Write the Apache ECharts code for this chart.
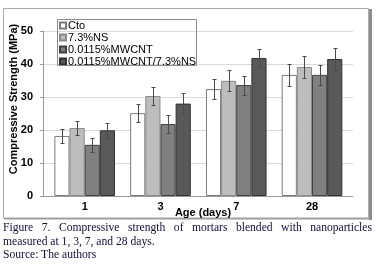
<!DOCTYPE html>
<html>
<head>
<meta charset="utf-8">
<script src="https://cdn.jsdelivr.net/npm/echarts@6/dist/echarts.min.js"></script>
<style>
html,body{margin:0;padding:0;background:#fff;}
#wrap{position:relative;width:384px;height:268px;overflow:hidden;}
#chart{position:absolute;left:0;top:0;width:384px;height:268px;}
.cap{position:absolute;left:3px;width:369px;font-family:"Liberation Serif","Times New Roman",serif;font-size:11.6px;line-height:13px;color:#10103a;white-space:nowrap;}
#c1{top:221px;text-align:justify;text-align-last:justify;white-space:normal;}
#c2{top:235px;}
#c3{top:248px;}
</style>
</head>
<body>
<div id="wrap">
<div id="chart"></div>
<div class="cap" id="c1">Figure 7. Compressive strength of mortars blended with nanoparticles</div>
<div class="cap" id="c2">measured at 1, 3, 7, and 28 days.</div>
<div class="cap" id="c3">Source: The authors</div>
</div>
<script>
const categories = ['1', '3', '7', '28'];
const seriesNames = ['Cto', '7.3%NS', '0.0115%MWCNT', '0.0115%MWCNT/7.3%NS'];
const ctoValues = [18.2, 25.1, 32.4, 36.7];
const nsValues = [20.6, 30.3, 34.9, 39.1];
const mwcntValues = [15.5, 21.8, 33.6, 36.7];
const comboValues = [19.9, 28.0, 41.8, 41.5];
const ctoErr = [2.1, 2.8, 3.0, 3.4];
const nsErr = [2.1, 2.7, 3.2, 3.2];
const mwcntErr = [2.2, 2.6, 2.9, 3.0];
const comboErr = [2.3, 3.1, 2.6, 3.3];
const yTicks = [0, 10, 20, 30, 40, 50];

const allValues = [ctoValues, nsValues, mwcntValues, comboValues];
const allErr = [ctoErr, nsErr, mwcntErr, comboErr];
const fills = ['#ffffff', '#bdbdbd', '#808080', '#595959'];
const borders = ['#7a7a7a', '#8a8a8a', '#3f3f3f', '#303030'];
const FONT = '"Liberation Sans", Arial, sans-serif';

const chart = echarts.init(document.getElementById('chart'), null, {renderer: 'canvas'});

const barSeries = allValues.map((vals, k) => ({
  name: seriesNames[k],
  type: 'bar',
  xAxisIndex: 1,
  yAxisIndex: 1,
  data: vals,
  barGap: '0%',
  barCategoryGap: '20%',
  itemStyle: {color: fills[k], borderColor: borders[k], borderWidth: 1},
  emphasis: {disabled: true},
  z: 3
}));

const errSeries = allValues.map((vals, k) => ({
  name: 'err' + k,
  type: 'custom',
  xAxisIndex: 1,
  yAxisIndex: 1,
  z: 5,
  silent: true,
  data: vals.map((v, i) => [i, v, allErr[k][i]]),
  renderItem: function (params, api) {
    const ci = api.value(0), v = api.value(1), e = api.value(2);
    const bandW = api.size([1, 0])[0];
    const barW = bandW * 0.8 / 4;
    const cx = Math.round(api.coord([ci, v])[0] + (k - 1.5) * barW) + 0.5;
    const yt = Math.round(api.coord([ci, v + e])[1]) + 0.5;
    const yb = Math.round(api.coord([ci, v - e])[1]) + 0.5;
    const st = {stroke: '#4a4a4a', lineWidth: 1};
    return {
      type: 'group',
      children: [
        {type: 'line', shape: {x1: cx, y1: yt, x2: cx, y2: yb}, style: st},
        {type: 'line', shape: {x1: cx - 2, y1: yt, x2: cx + 2, y2: yt}, style: st},
        {type: 'line', shape: {x1: cx - 2, y1: yb, x2: cx + 2, y2: yb}, style: st}
      ]
    };
  }
}));

const option = {
  animation: false,
  backgroundColor: '#ffffff',
  textStyle: {fontFamily: FONT},
  grid: [
    {left: 43, right: 31, top: 31, bottom: 72},
    {left: 46.8, right: 34.1, top: 31, bottom: 72}
  ],
  xAxis: [
    {
      type: 'category', gridIndex: 0, data: categories,
      axisLine: {show: true, lineStyle: {color: '#9a9a9a', width: 1}},
      axisTick: {show: false}, axisLabel: {show: false}, splitLine: {show: false}
    },
    {
      type: 'category', gridIndex: 1, data: categories,
      axisLine: {show: false}, axisTick: {show: false},
      axisLabel: {show: true, margin: 5, color: '#000', fontWeight: 'bold', fontSize: 11, fontFamily: FONT},
      splitLine: {show: false}
    }
  ],
  yAxis: [
    {
      type: 'value', gridIndex: 0, min: yTicks[0], max: yTicks[yTicks.length - 1], interval: 10,
      axisLine: {show: true, lineStyle: {color: '#9a9a9a', width: 1}},
      axisTick: {show: true, length: 3, lineStyle: {color: '#9a9a9a'}},
      axisLabel: {margin: 10, color: '#000', fontWeight: 'bold', fontSize: 11, fontFamily: FONT},
      splitLine: {show: true, lineStyle: {color: '#d9d9d9', width: 1}}
    },
    {
      type: 'value', gridIndex: 1, min: yTicks[0], max: yTicks[yTicks.length - 1], interval: 10, show: false,
      splitLine: {show: false}
    }
  ],
  legend: {
    data: seriesNames,
    orient: 'vertical',
    left: 59,
    top: 20,
    itemGap: 1,
    itemWidth: 6,
    itemHeight: 6,
    icon: 'rect',
    padding: 0,
    selectedMode: false,
    textStyle: {fontSize: 11, color: '#000', fontFamily: FONT, padding: [0, 0, 0, -3]}
  },
  graphic: [
    {type: 'rect', z: 100, silent: true, shape: {x: 57.5, y: 19.5, width: 139, height: 46}, style: {fill: 'none', stroke: '#8c8c8c', lineWidth: 1}},
    {type: 'rect', z: -10, silent: true, shape: {x: 57.5, y: 19.5, width: 139, height: 46}, style: {fill: '#ffffff'}},
    {type: 'rect', silent: true, shape: {x: 3.5, y: 8.5, width: 365, height: 209.5}, style: {fill: 'none', stroke: '#ababab', lineWidth: 1}},
    {type: 'rect', silent: true, shape: {x: 369, y: 9, width: 3, height: 211}, style: {fill: '#8c8c8c'}},
    {type: 'rect', silent: true, shape: {x: 4, y: 218, width: 366, height: 1.5}, style: {fill: '#9c9c9c'}},
    {type: 'text', silent: true, x: 14, y: 99, rotation: Math.PI / 2,
      style: {text: 'Compressive Strength (MPa)', fill: '#000', font: 'bold 11px ' + FONT, align: 'center', verticalAlign: 'middle'}},
    {type: 'text', silent: true, x: 203, y: 213,
      style: {text: 'Age (days)', fill: '#000', font: 'bold 11px ' + FONT, align: 'center', verticalAlign: 'middle'}}
  ],
  series: barSeries.concat(errSeries)
};
chart.setOption(option);
</script>
</body>
</html>
